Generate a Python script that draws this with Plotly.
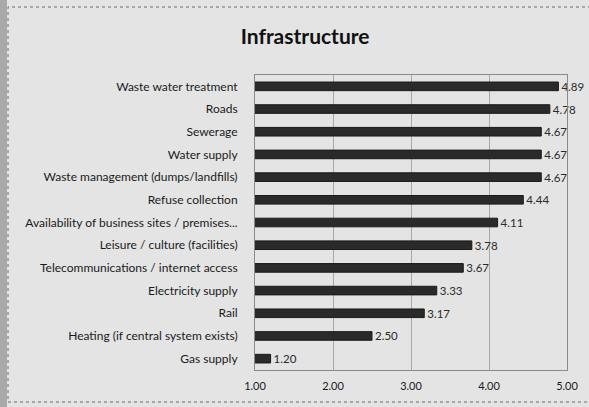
import plotly.graph_objects as go

categories = [
    "Waste water treatment",
    "Roads",
    "Sewerage",
    "Water supply",
    "Waste management (dumps/landfills)",
    "Refuse collection",
    "Availability of business sites / premises...",
    "Leisure / culture (facilities)",
    "Telecommunications / internet access",
    "Electricity supply",
    "Rail",
    "Heating (if central system exists)",
    "Gas supply",
]
values = [4.89, 4.78, 4.67, 4.67, 4.67, 4.44, 4.11, 3.78, 3.67, 3.33, 3.17, 2.50, 1.20]
tick_vals = [1, 2, 3, 4, 5]
tick_text = ["1.00", "2.00", "3.00", "4.00", "5.00"]

font_family = "Lato, 'Open Sans', sans-serif"

W, H = 589, 407
ML, MR, MT, MB = 255, 22, 75, 37
PW, PH = W - ML - MR, H - MT - MB


def px_x(px):
    return (px - ML) / PW


def px_y(py):
    return (H - MB - py) / PH


fig = go.Figure(go.Bar(
    x=values,
    y=categories,
    orientation="h",
    marker=dict(color="#2a2a2a", line=dict(color="#1a1a1a", width=1)),
    width=0.38,
    text=[f"{v:.2f}" for v in values],
    textposition="outside",
    constraintext="none",
    textfont=dict(size=11.5, color="#2a2a2a", family=font_family),
    cliponaxis=False,
))

fig.update_layout(
    width=W,
    height=H,
    margin=dict(l=ML, r=MR, t=MT, b=MB),
    paper_bgcolor="#e4e4e4",
    plot_bgcolor="#e4e4e4",
    title=dict(text="<b>Infrastructure</b>", x=0.518, xanchor="center", y=0.91, yanchor="middle",
               font=dict(size=21, color="#111111", family=font_family)),
    font=dict(family=font_family, size=11, color="#1a1a1a"),
    showlegend=False,
    bargap=0.6,
    shapes=[
        dict(type="rect", xref="paper", yref="paper",
             x0=px_x(8), x1=px_x(W + 5), y0=px_y(402), y1=px_y(7),
             fillcolor="rgba(0,0,0,0)", line=dict(color="#6a6a6a", width=1, dash="dot"),
             layer="above"),
    ],
    annotations=[
        dict(text=" ", xref="paper", yref="paper", x=px_x(0), y=px_y(0),
             xanchor="left", yanchor="top", width=7, height=H, bgcolor="#a9a9a9",
             borderpad=0, borderwidth=0, showarrow=False),
    ],
)
fig.update_xaxes(
    range=[1, 5],
    tickvals=tick_vals,
    ticktext=tick_text,
    showgrid=True,
    gridcolor="#a8a8a8",
    gridwidth=1,
    showline=True,
    linecolor="#8a8a8a",
    mirror=True,
    zeroline=False,
    tickfont=dict(size=11, color="#1a1a1a"),
    ticks="",
    ticklabelstandoff=6,
)
fig.update_yaxes(
    autorange="reversed",
    showgrid=False,
    showline=True,
    linecolor="#8a8a8a",
    mirror=True,
    ticks="",
    tickfont=dict(size=12, color="#1a1a1a"),
    ticklabelstandoff=14,
)

fig.write_html(
    "out.html",
    config={"displayModeBar": False},
    post_script="document.body.style.margin='0';document.body.style.padding='0';",
)
